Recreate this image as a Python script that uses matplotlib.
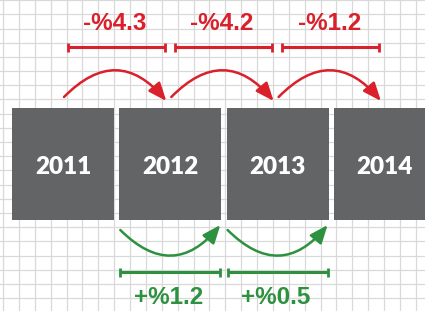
import matplotlib
matplotlib.use("Agg")
import matplotlib.pyplot as plt
from matplotlib.patches import Rectangle, FancyArrowPatch
import numpy as np

# ---- data ----
years = ["2011", "2012", "2013", "2014"]
declines = [4.3, 4.2, 1.2]      # year-over-year decrease (%)
gains = [1.2, 0.5]              # increase (%) for 2012, 2013

RED = "#d9202b"
GREEN = "#2e9140"
BOX = "#636466"
GRID = "#d9d9d9"

W, H = 425, 311
fig = plt.figure(figsize=(W / 100, H / 100), dpi=100)
ax = fig.add_axes([0, 0, 1, 1])
ax.set_xlim(0, W)
ax.set_ylim(H, 0)
ax.axis("off")

# grid
for x in np.arange(3, W, 15.88):
    ax.axvline(x, color=GRID, lw=0.9, zorder=0)
for y in np.arange(0.1, H, 14.2):
    ax.axhline(y, color=GRID, lw=0.9, zorder=0)

# layout
step = 107.3
left0 = 12
bw = 102
top, bottom = 108, 220
lefts = [left0 + step * i for i in range(len(years))]
centers = [l + bw / 2 for l in lefts]

# boxes
for l, c, yr in zip(lefts, centers, years):
    ax.add_patch(Rectangle((l, top), bw, bottom - top, color=BOX, lw=0, zorder=2))
    ax.text(c, (top + bottom) / 2 + 3, yr, color="white", fontsize=17.5,
            fontweight="heavy", family="Lato", ha="center", va="center", zorder=3)

def bracket(x0, x1, y, color):
    ax.plot([x0, x1], [y, y], color=color, lw=2.2, solid_capstyle="butt", zorder=3)
    for xx in (x0, x1):
        ax.plot([xx, xx], [y - 4.5, y + 4.5], color=color, lw=2.0,
                solid_capstyle="butt", zorder=3)

# red decreases
for i, v in enumerate(declines):
    a = FancyArrowPatch((centers[i] + 1, 97), (centers[i + 1] - 4, 101),
                        connectionstyle="arc3,rad=-0.55",
                        arrowstyle="-|>,head_length=11,head_width=4.5",
                        mutation_scale=1, color=RED, lw=1.8, zorder=4,
                        shrinkA=0, shrinkB=0)
    ax.add_patch(a)
    mid = (centers[i] + centers[i + 1]) / 2
    bracket(mid - 49, mid + 48, 47, RED)
    ax.text(mid - 2, 23, f"-%{v}", color=RED, fontsize=17.5, fontweight="bold",
            family="Liberation Sans", ha="center", va="center")

# green increases
for j, v in enumerate(gains):
    k = j + 1
    l = lefts[k]
    a = FancyArrowPatch((l + 1, 230), (l + bw - 1, 225),
                        connectionstyle="arc3,rad=0.55",
                        arrowstyle="-|>,head_length=11,head_width=4.5",
                        mutation_scale=1, color=GREEN, lw=1.8, zorder=4,
                        shrinkA=0, shrinkB=0)
    ax.add_patch(a)
    bracket(l + 1, l + bw - 1, 272, GREEN)
    ax.text(centers[k] - 2, 297, f"+%{v}", color=GREEN, fontsize=17.5,
            fontweight="bold", family="Liberation Sans", ha="center", va="center")

fig.savefig("out.png", dpi=100)
